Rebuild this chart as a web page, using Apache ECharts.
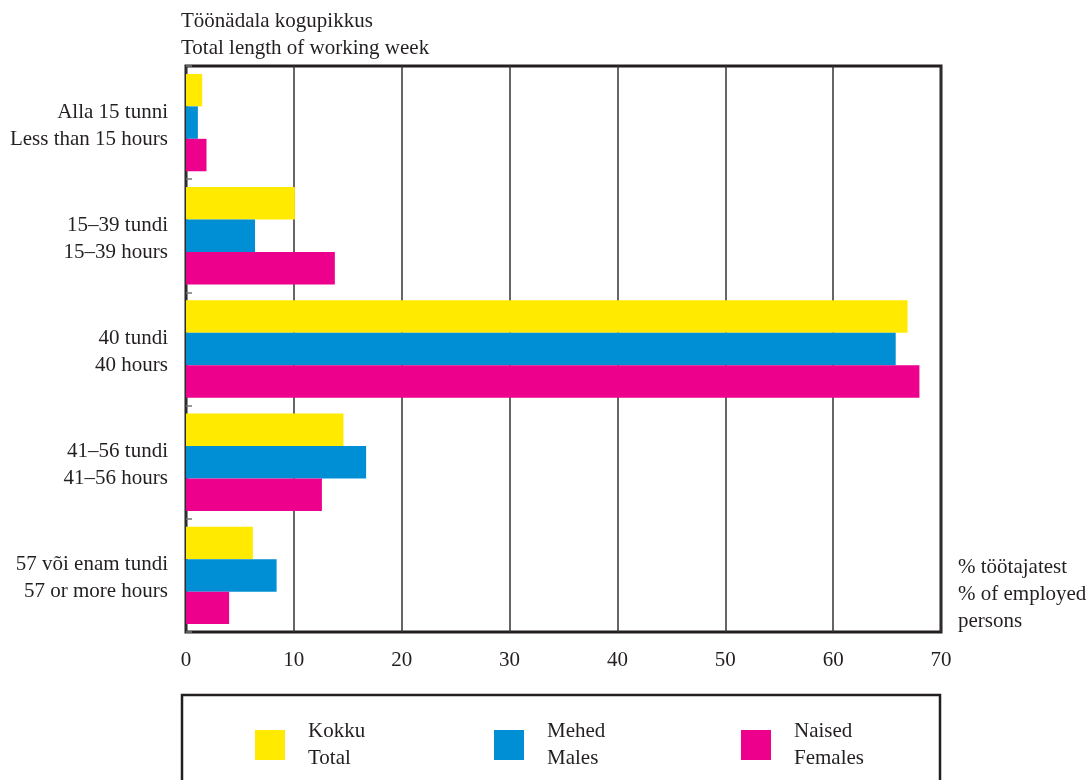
<!DOCTYPE html>
<html>
<head>
<meta charset="utf-8">
<script src="https://cdn.jsdelivr.net/npm/echarts@6/dist/echarts.min.js"></script>
<style>
  html, body { margin: 0; padding: 0; background: #fff; }
  #chart { width: 1090px; height: 780px; }
</style>
</head>
<body>
<div id="chart"></div>
<script>
// andmed
var categoriesEt = ['Alla 15 tunni', '15–39 tundi', '40 tundi', '41–56 tundi', '57 või enam tundi'];
var categoriesEn = ['Less than 15 hours', '15–39 hours', '40 hours', '41–56 hours', '57 or more hours'];
var kokku = [1.5, 10.1, 66.9, 14.6, 6.2];
var mehed = [1.1, 6.4, 65.8, 16.7, 8.4];
var naised = [1.9, 13.8, 68.0, 12.6, 4.0];
var xTicks = [0, 10, 20, 30, 40, 50, 60, 70];

var ink = '#231f20';
var font = 'Liberation Serif';
var fs = 21;

var myChart = echarts.init(document.getElementById('chart'));

// legendi üksus
function legendItem(name, en, left) {
  return {
    data: [name],
    left: left,
    top: 717,
    padding: 0,
    orient: 'horizontal',
    icon: 'rect',
    itemWidth: 30,
    itemHeight: 30,
    selectedMode: false,
    formatter: function (n) { return n + '\n' + en },
    textStyle: {
      fontFamily: font,
      fontSize: fs,
      color: ink,
      lineHeight: 27,
      padding: [2, 0, 0, 18]
    }
  }
}

function barSeries(name, data, color) {
  return {
    name: name,
    type: 'bar',
    data: data,
    barGap: 0,
    barCategoryGap: '14%',
    itemStyle: { color: color },
    emphasis: { disabled: true }
  }
}

myChart.setOption({
  animation: false,
  textStyle: { fontFamily: font },
  title: {
    text: 'Töönädala kogupikkus\nTotal length of working week',
    left: 176,
    top: 3,
    textStyle: {
      fontFamily: font,
      fontSize: fs,
      fontWeight: 'normal',
      color: ink,
      lineHeight: 27
    }
  },
  grid: {
    left: 186,
    right: 149,
    top: 66,
    bottom: 148,
    show: true,
    borderColor: ink,
    borderWidth: 3,
    backgroundColor: 'transparent'
  },
  legend: [
    legendItem('Kokku', 'Total', 255),
    legendItem('Mehed', 'Males', 494),
    legendItem('Naised', 'Females', 741)
  ],
  xAxis: {
    type: 'value',
    min: xTicks[0],
    max: xTicks[xTicks.length - 1],
    interval: 10,
    axisLine: { show: false },
    axisTick: { show: false },
    splitLine: { show: true, lineStyle: { color: '#333', width: 1.5 } },
    axisLabel: {
      margin: 18,
      fontFamily: font,
      fontSize: fs,
      color: ink
    }
  },
  yAxis: {
    type: 'category',
    inverse: true,
    data: categoriesEt,
    axisLine: { show: false },
    axisTick: {
      show: true,
      inside: true,
      length: 6,
      lineStyle: { color: '#777', width: 1.5 }
    },
    axisLabel: {
      margin: 18,
      fontFamily: font,
      fontSize: fs,
      color: ink,
      align: 'right',
      // tühi rida üleval nihutab sildi veidi allapoole
      formatter: function (v, i) { return '{s| }\n{p|' + v + '}\n{p|' + categoriesEn[i] + '}' },
      rich: {
        s: { fontSize: 1, lineHeight: 6 },
        p: { fontFamily: font, fontSize: fs, color: ink, lineHeight: 27, align: 'right' }
      }
    }
  },
  series: [
    barSeries('Kokku', kokku, '#FFEA00'),
    barSeries('Mehed', mehed, '#008ED5'),
    barSeries('Naised', naised, '#EC008C')
  ],
  graphic: [
    {
      type: 'text',
      left: 958,
      top: 554,
      style: {
        text: '% töötajatest\n% of employed\npersons',
        font: fs + 'px "Liberation Serif"',
        fill: ink,
        lineHeight: 27
      }
    },
    {
      type: 'rect',
      shape: { x: 182, y: 695, width: 758, height: 100 },
      style: { fill: 'none', stroke: ink, lineWidth: 2.5 }
    }
  ]
})
</script>
</body>
</html>
